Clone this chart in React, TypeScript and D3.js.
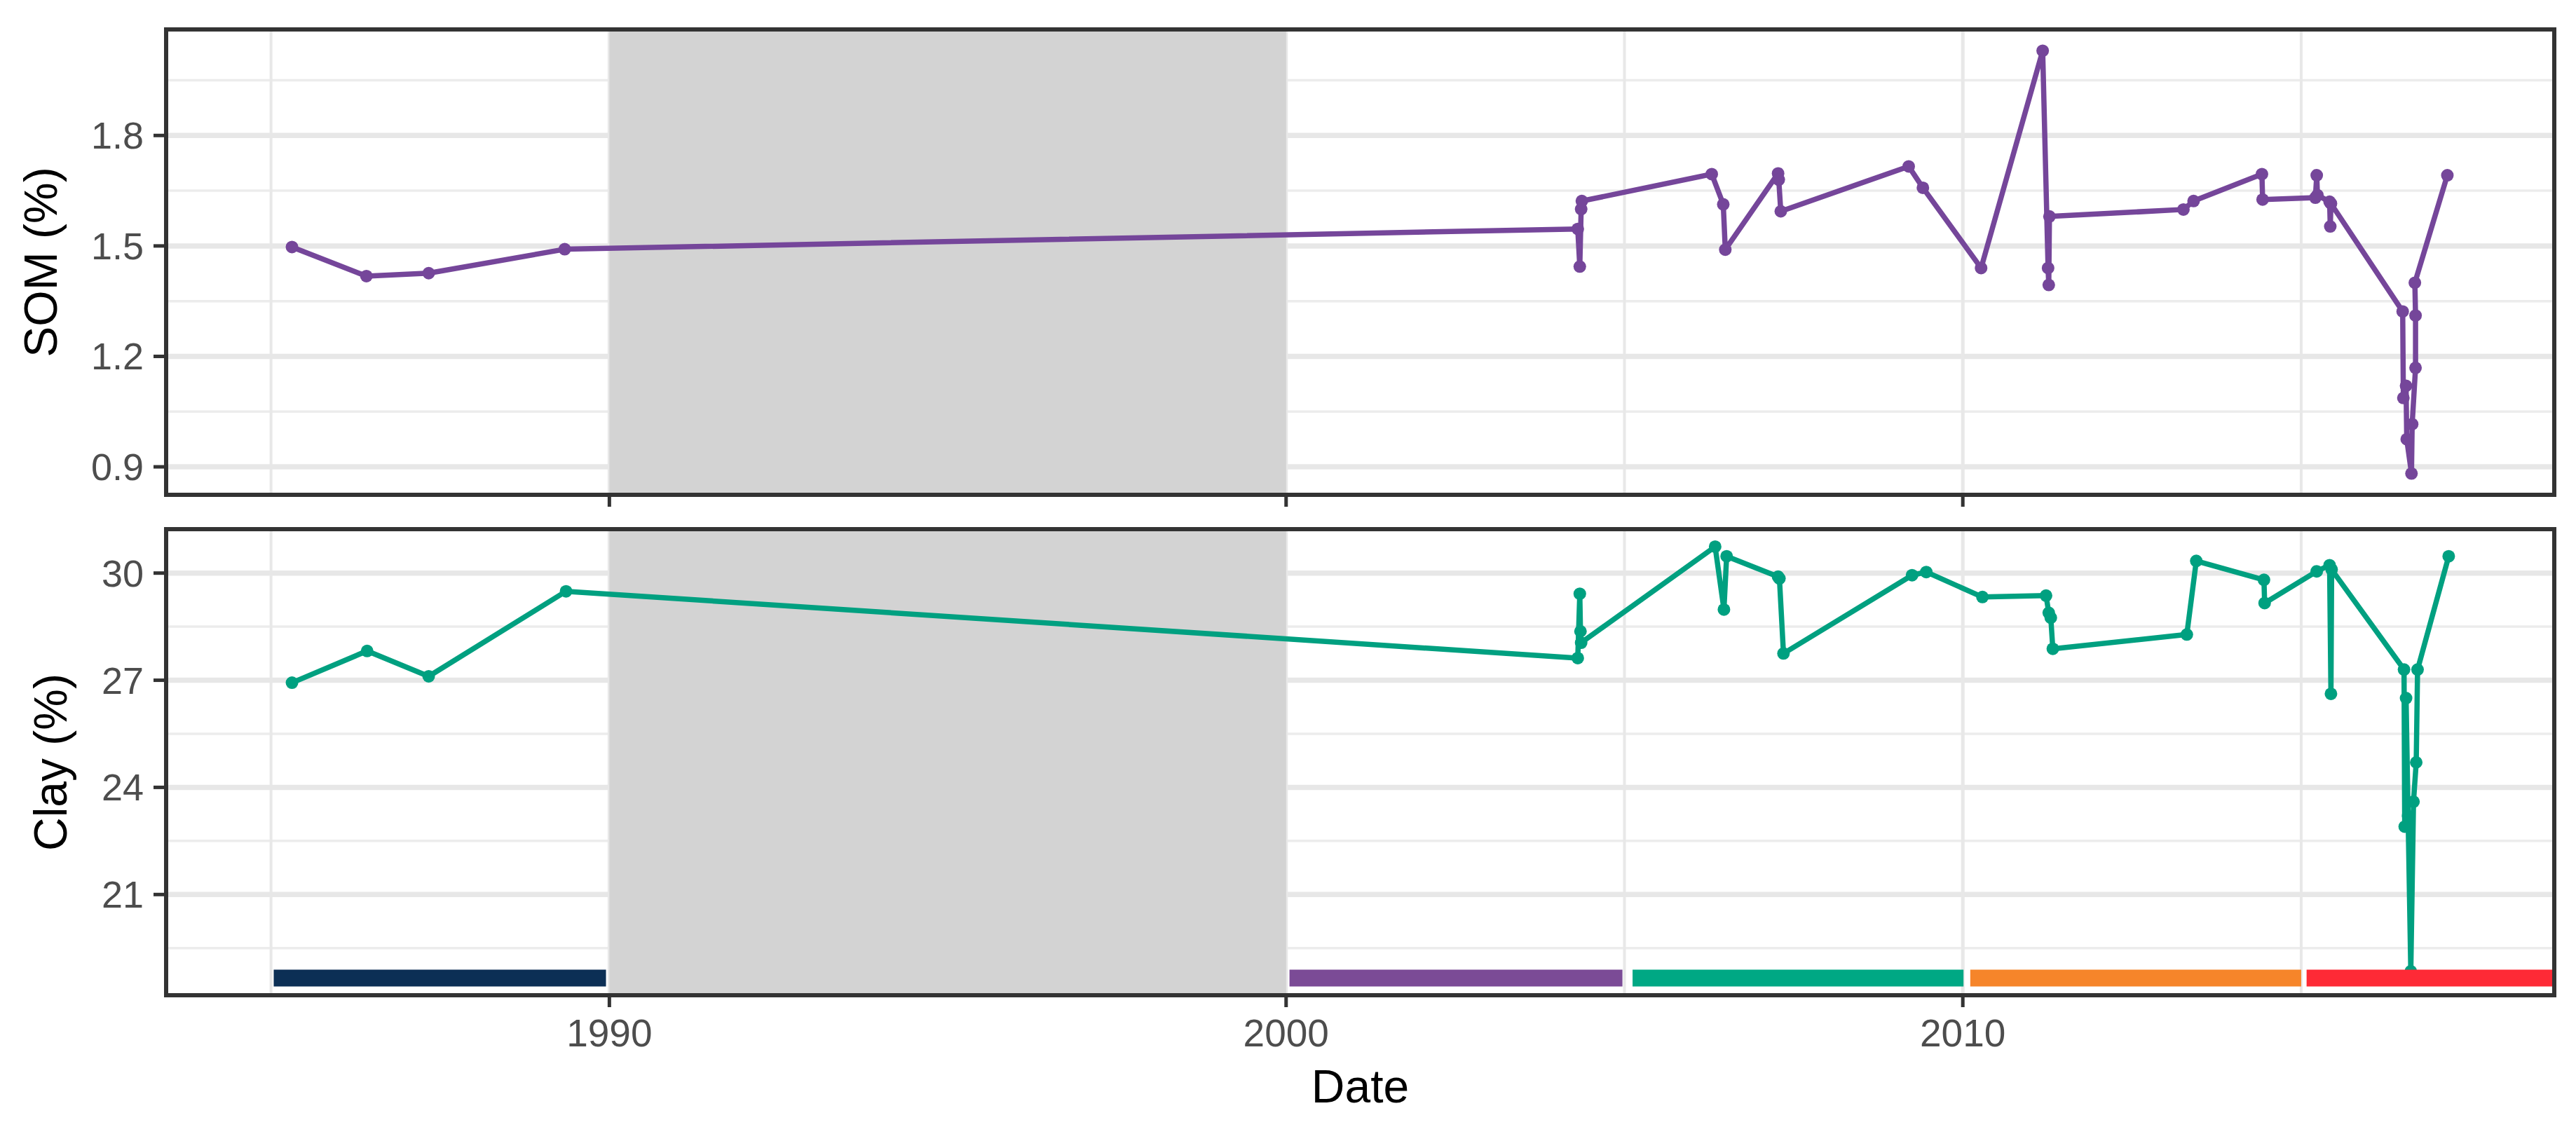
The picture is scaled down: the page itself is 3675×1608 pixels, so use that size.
import React from "react";
import * as d3 from "d3";

const W = 3675;
const H = 1608;

// ---- data (decimal years) ----
const somDates = [
  1985.31, 1986.41, 1987.33, 1989.34,
  2004.31, 2004.34, 2004.36, 2004.37,
  2006.29, 2006.46, 2006.49,
  2007.27, 2007.28, 2007.31,
  2009.2, 2009.41, 2010.27,
  2011.18, 2011.26, 2011.27, 2011.28,
  2013.26, 2013.41, 2014.42, 2014.43,
  2015.21, 2015.23, 2015.24, 2015.42, 2015.43, 2015.44,
  2016.5, 2016.51, 2016.55, 2016.56, 2016.63, 2016.64, 2016.69, 2016.69, 2016.68,
  2017.16,
];
const somValues = [
  1.497, 1.418, 1.426, 1.491,
  1.546, 1.444, 1.6, 1.622,
  1.695, 1.613, 1.49,
  1.697, 1.68, 1.594,
  1.716, 1.658, 1.44,
  2.03, 1.44, 1.394, 1.58,
  1.599, 1.622, 1.695, 1.626,
  1.631, 1.692, 1.638, 1.62, 1.553, 1.615,
  1.322, 1.087, 1.12, 0.975, 0.882, 1.016, 1.169, 1.311, 1.4,
  1.692,
];

const clayDates = [
  1985.31, 1986.42, 1987.33, 1989.36,
  2004.31, 2004.34, 2004.35, 2004.36,
  2006.34, 2006.47, 2006.51,
  2007.27, 2007.29, 2007.35,
  2009.25, 2009.46, 2010.29,
  2011.23, 2011.27, 2011.3, 2011.33,
  2013.31, 2013.45, 2014.45, 2014.46,
  2015.23, 2015.42, 2015.44, 2015.45,
  2016.52, 2016.53, 2016.55, 2016.58, 2016.62, 2016.66, 2016.7, 2016.72,
  2017.18,
];
const clayValues = [
  26.93, 27.82, 27.11, 29.49,
  27.62, 29.42, 28.37, 28.05,
  30.74, 28.98, 30.47,
  29.9, 29.85, 27.75,
  29.94, 30.03, 29.33,
  29.37, 28.89, 28.75, 27.88,
  28.28, 30.34, 29.81, 29.16,
  30.05, 30.22, 26.62, 30.1,
  27.3, 22.9, 26.5, 23.2, 18.85, 23.6, 24.7, 27.3,
  30.47,
];

// management periods shown as coloured bars
const periodStarts = [1985.04, 2000.05, 2005.12, 2010.11, 2015.08];
const periodEnds = [1989.95, 2004.97, 2010.01, 2015.0, 2019.5];
const periodColors = ["#0c2f55", "#7b4b96", "#00a884", "#f6852a", "#fe2a36"];
const periodLevel = 18.66;

const gapStart = 1990;
const gapEnd = 2000;

const xMajorTicks = [1990, 2000, 2010];
const xMinorTicks = [1985, 1995, 2005, 2015];
const xDomain = [1983.45, 2018.74];

const somMajorTicks = [0.9, 1.2, 1.5, 1.8];
const somMinorTicks = [1.05, 1.35, 1.65, 1.95];
const somDomain = [0.824, 2.088];

const clayMajorTicks = [21, 24, 27, 30];
const clayMinorTicks = [19.5, 22.5, 25.5, 28.5];
const clayDomain = [18.18, 31.23];

const somColor = "#75469a";
const clayColor = "#00a080";

// ---- layout ----
const LEFT = 237;
const RIGHT = 3644;
const FONT = "'Liberation Sans', Arial, Helvetica, sans-serif";

const x = d3.scaleLinear().domain(xDomain).range([LEFT, RIGHT]);

type PanelProps = {
  id: string;
  top: number;
  bottom: number;
  domain: number[];
  majorTicks: number[];
  minorTicks: number[];
  dates: number[];
  values: number[];
  color: string;
  title: string;
  titleX: number;
  showBars: boolean;
  showXLabels: boolean;
  fmt: (v: number) => string;
};

function Panel(p: PanelProps) {
  const y = d3.scaleLinear().domain(p.domain).range([p.bottom, p.top]);
  const pts = p.dates.map((d, i) => [x(d), y(p.values[i])] as [number, number]);
  const line = d3.line()(pts) || "";
  const cy = (p.top + p.bottom) / 2;
  return (
    <g>
      <defs>
        <clipPath id={p.id}>
          <rect x={LEFT} y={p.top} width={RIGHT - LEFT} height={p.bottom - p.top} />
        </clipPath>
      </defs>
      <rect x={LEFT} y={p.top} width={RIGHT - LEFT} height={p.bottom - p.top} fill="#fff" />
      <g clipPath={`url(#${p.id})`}>
        {p.minorTicks.map((t) => (
          <line key={"hm" + t} x1={LEFT} x2={RIGHT} y1={y(t)} y2={y(t)} stroke="#ececec" strokeWidth={3.5} />
        ))}
        {xMinorTicks.map((t) => (
          <line key={"vm" + t} x1={x(t)} x2={x(t)} y1={p.top} y2={p.bottom} stroke="#e8e8e8" strokeWidth={4} />
        ))}
        {p.majorTicks.map((t) => (
          <line key={"hM" + t} x1={LEFT} x2={RIGHT} y1={y(t)} y2={y(t)} stroke="#e7e7e7" strokeWidth={7.5} />
        ))}
        {xMajorTicks.map((t) => (
          <line key={"vM" + t} x1={x(t)} x2={x(t)} y1={p.top} y2={p.bottom} stroke="#e8e8e8" strokeWidth={5} />
        ))}
        <rect x={x(gapStart)} y={p.top} width={x(gapEnd) - x(gapStart)} height={p.bottom - p.top} fill="#d3d3d3" />
        <path d={line} fill="none" stroke={p.color} strokeWidth={7.5} strokeLinejoin="round" />
        {pts.map((q, i) => (
          <circle key={"p" + i} cx={q[0]} cy={q[1]} r={9} fill={p.color} />
        ))}
        {p.showBars &&
          periodStarts.map((s, i) => (
            <line
              key={"b" + i}
              x1={x(s)}
              x2={x(periodEnds[i])}
              y1={y(periodLevel)}
              y2={y(periodLevel)}
              stroke={periodColors[i]}
              strokeWidth={24}
            />
          ))}
      </g>
      <rect
        x={LEFT}
        y={p.top}
        width={RIGHT - LEFT}
        height={p.bottom - p.top}
        fill="none"
        stroke="#333"
        strokeWidth={6}
      />
      {p.majorTicks.map((t) => (
        <g key={"yt" + t}>
          <line x1={LEFT - 18} x2={LEFT} y1={y(t)} y2={y(t)} stroke="#333" strokeWidth={5} />
          <text
            x={LEFT - 32}
            y={y(t)}
            textAnchor="end"
            dominantBaseline="central"
            fontFamily={FONT}
            fontSize={54}
            fill="#4d4d4d"
          >
            {p.fmt(t)}
          </text>
        </g>
      ))}
      {xMajorTicks.map((t) => (
        <g key={"xt" + t}>
          <line x1={x(t)} x2={x(t)} y1={p.bottom} y2={p.bottom + 17} stroke="#333" strokeWidth={5} />
          {p.showXLabels && (
            <text
              x={x(t)}
              y={p.bottom + 73}
              textAnchor="middle"
              fontFamily={FONT}
              fontSize={55}
              fill="#4d4d4d"
            >
              {t}
            </text>
          )}
        </g>
      ))}
      <text
        transform={`translate(${p.titleX},${cy}) rotate(-90)`}
        textAnchor="middle"
        dominantBaseline="central"
        fontFamily={FONT}
        fontSize={66}
        fill="#000"
      >
        {p.title}
      </text>
    </g>
  );
}

export default function App() {
  return (
    <svg
      width={W}
      height={H}
      viewBox={`0 0 ${W} ${H}`}
      style={{ position: "absolute", left: 0, top: 0, background: "#fff" }}
    >
      <rect x={0} y={0} width={W} height={H} fill="#fff" />
      <Panel
        id="clipSom"
        top={42}
        bottom={706}
        domain={somDomain}
        majorTicks={somMajorTicks}
        minorTicks={somMinorTicks}
        dates={somDates}
        values={somValues}
        color={somColor}
        title="SOM (%)"
        titleX={58}
        showBars={false}
        showXLabels={false}
        fmt={(v) => d3.format(".1f")(v)}
      />
      <Panel
        id="clipClay"
        top={755}
        bottom={1420}
        domain={clayDomain}
        majorTicks={clayMajorTicks}
        minorTicks={clayMinorTicks}
        dates={clayDates}
        values={clayValues}
        color={clayColor}
        title="Clay (%)"
        titleX={72}
        showBars={true}
        showXLabels={true}
        fmt={(v) => String(v)}
      />
      <text
        x={(LEFT + RIGHT) / 2}
        y={1573}
        textAnchor="middle"
        fontFamily={FONT}
        fontSize={66}
        fill="#000"
      >
        Date
      </text>
    </svg>
  );
}
